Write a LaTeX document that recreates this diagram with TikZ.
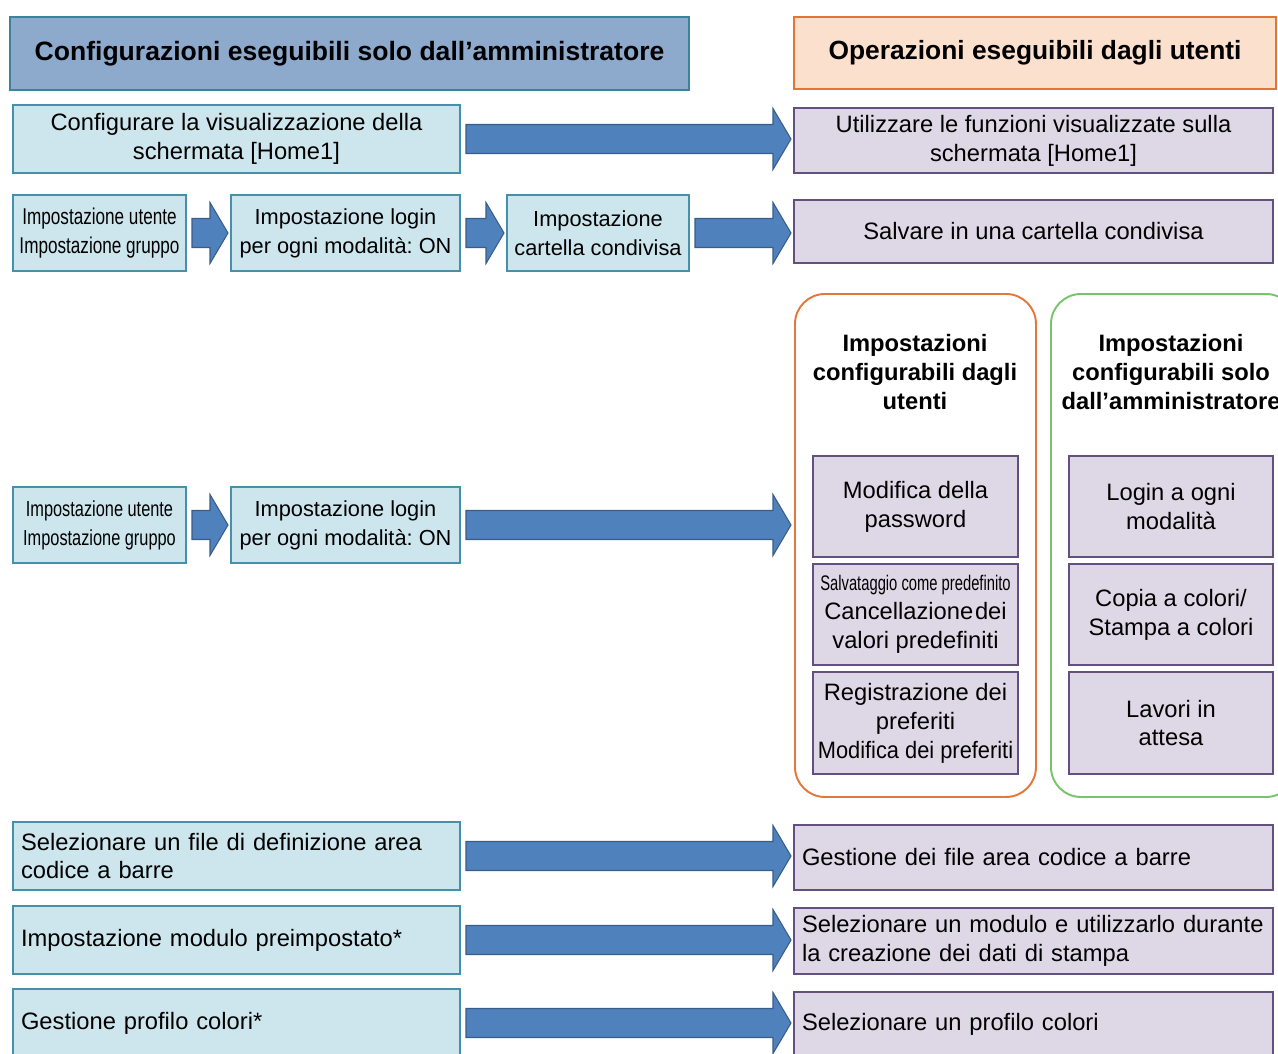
\documentclass[tikz,border=0pt]{standalone}
\usepackage{fontspec}
\setmainfont{Liberation Sans}
\newfontfamily\narrowfont[FakeStretch=0.75]{Liberation Sans}
\newfontfamily\squeezefont[FakeStretch=0.7]{Liberation Sans}
\newfontfamily\tightfont[FakeStretch=0.92]{Liberation Sans}
\usetikzlibrary{calc}
\frenchspacing

\definecolor{hdAdmFill}{RGB}{141,169,204}
\definecolor{hdAdmLine}{RGB}{60,130,155}
\definecolor{hdUsrFill}{RGB}{251,224,206}
\definecolor{hdUsrLine}{RGB}{228,116,52}
\definecolor{admFill}{RGB}{205,230,238}
\definecolor{admLine}{RGB}{70,145,168}
\definecolor{usrFill}{RGB}{221,215,230}
\definecolor{usrLine}{RGB}{100,80,128}
\definecolor{arrFill}{RGB}{79,129,189}
\definecolor{arrLine}{RGB}{56,93,138}
\definecolor{grpOrange}{RGB}{228,120,58}
\definecolor{grpGreen}{RGB}{120,196,108}

% one unit = one pixel of the layout grid
\def\pu{0.2mm}

\tikzset{
  box/.style={draw, line width=1.1pt, inner sep=0pt, outer sep=0pt, anchor=north west,
    align=center, font=\fontsize{13.5}{16.5}\selectfont},
  admin/.style={box, draw=admLine, fill=admFill},
  user/.style={box, draw=usrLine, fill=usrFill},
  wh/.style 2 args={minimum width=#1*\pu, minimum height=#2*\pu},
  lefttext/.style={align=left, text width=#1, inner xsep=1.6mm},
  header/.style={box, font=\bfseries\fontsize{15.1}{18}\selectfont},
  narrow/.style={font=\narrowfont\fontsize{13}{16.5}\selectfont},
  small/.style={font=\fontsize{12.4}{16.5}\selectfont},
  group/.style={draw, line width=1.1pt, rounded corners=6mm, anchor=north west, inner sep=0pt},
  grouptitle/.style={align=center, font=\bfseries\fontsize{13.5}{16.5}\selectfont},
  flow/.style={fill=arrFill, draw=arrLine, line width=0.6pt, line join=miter},
}

% block arrow from the east side of #1 to the west side of #2
\newcommand\flowarrow[2]{%
  \coordinate (fs) at ($(#1.east)+(6,0)$);
  \coordinate (ft) at ($(fs -| #2.west)+(-3,0)$);
  \draw[flow] ($(fs)+(0,-14.5)$) -- ($(ft)+(-18,-14.5)$) -- ($(ft)+(-18,-30.5)$) -- (ft)
    -- ($(ft)+(-18,30.5)$) -- ($(ft)+(-18,14.5)$) -- ($(fs)+(0,14.5)$) -- cycle;
}

\begin{document}
\begin{tikzpicture}[x=0.2mm,y=-0.2mm]
\useasboundingbox (0,0) rectangle (1278,1053);
\clip (0,0) rectangle (1278,1053);

% column headers
\node[header, draw=hdAdmLine, fill=hdAdmFill, wh={679}{73}] (hdAdmin) at (10,17)
  {Configurazioni eseguibili solo dall'amministratore};
\node[header, draw=hdUsrLine, fill=hdUsrFill, wh={482}{72}, font=\bfseries\fontsize{15}{18}\selectfont] (hdUser) at (794,17)
  {Operazioni eseguibili dagli utenti};

% home screen
\node[admin, wh={447}{68}] (cfgHome) at (13,105) {Configurare la visualizzazione della\\schermata [Home1]};
\node[user, wh={479}{65}] (useHome) at (794,108) {Utilizzare le funzioni visualizzate sulla\\schermata [Home1]};
\flowarrow{cfgHome}{useHome}

% shared folder
\node[admin, wh={173}{76}, narrow] (usrSet) at (13,195) {Impostazione utente\\Impostazione gruppo};
\node[admin, wh={229}{76}, small] (loginOn) at (231,195) {Impostazione login\\per ogni modalità: ON};
\node[admin, wh={182}{76}, small] (shareSet) at (507,195) {Impostazione\\cartella condivisa};
\node[user, wh={479}{63}] (saveShare) at (794,200) {Salvare in una cartella condivisa};
\flowarrow{usrSet}{loginOn}
\flowarrow{loginOn}{shareSet}
\flowarrow{shareSet}{saveShare}

% login per mode
\node[admin, wh={173}{76}, font=\narrowfont\fontsize{12.4}{16.5}\selectfont] (usrSetB) at (13,487) {Impostazione utente\\Impostazione gruppo};
\node[admin, wh={229}{76}, small] (loginOnB) at (231,487) {Impostazione login\\per ogni modalità: ON};
\flowarrow{usrSetB}{loginOnB}

\node[group, draw=grpOrange, wh={241}{503}] (grpUser) at (794,293) {};
\node[group, draw=grpGreen, wh={245}{503}] (grpAdmin) at (1050,293) {};
\node[grouptitle] (tUser) at (915,372) {Impostazioni\\configurabili dagli\\utenti};
\node[grouptitle] (tAdmin) at (1171,372) {Impostazioni\\configurabili solo\\dall'amministratore};
\flowarrow{loginOnB}{grpUser}

\node[user, wh={205}{101}] (pwd) at (813,456) {Modifica della\\password};
\node[user, wh={205}{101}] (defaults) at (813,564)
  {{\squeezefont\fontsize{12}{16.5}\selectfont Salvataggio come predefinito}\\Cancellazione\hspace{1pt}dei\\valori predefiniti};
\node[user, wh={205}{102}] (favs) at (813,672)
  {Registrazione dei\\preferiti\\{\tightfont Modifica dei preferiti}};
\node[user, wh={204}{101}] (login) at (1069,456) {Login a ogni\\modalità};
\node[user, wh={204}{101}] (color) at (1069,564) {Copia a colori/\\Stampa a colori};
\node[user, wh={204}{102}] (held) at (1069,672) {Lavori in\\attesa};

% barcode, forms, colour profiles
\node[admin, wh={447}{68}, lefttext=86.2mm] (barSel) at (13,822) {Selezionare un file di definizione area\\codice a barre};
\node[user, wh={479}{65}, lefttext=92.6mm] (barUse) at (794,825) {Gestione dei file area codice a barre};
\flowarrow{barSel}{barUse}

\node[admin, wh={447}{68}, lefttext=86.2mm] (formSet) at (13,906) {Impostazione modulo preimpostato*};
\node[user, wh={479}{66}, lefttext=92.6mm] (formUse) at (794,908) {Selezionare un modulo e utilizzarlo durante\\la creazione dei dati di stampa};
\flowarrow{formSet}{formUse}

\node[admin, wh={447}{68}, lefttext=86.2mm] (profSet) at (13,989) {Gestione profilo colori*};
\node[user, wh={479}{65}, lefttext=92.6mm] (profUse) at (794,992) {Selezionare un profilo colori};
\flowarrow{profSet}{profUse}
\end{tikzpicture}
\end{document}
